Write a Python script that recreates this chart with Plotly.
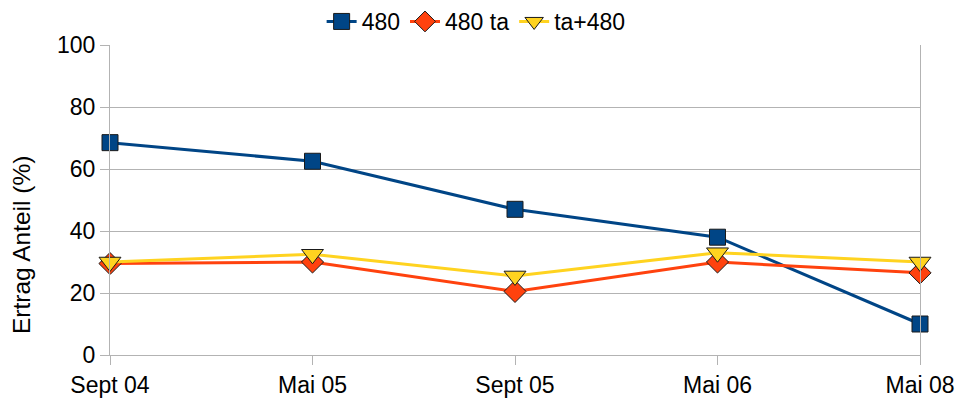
import plotly.graph_objects as go

categories = ["Sept 04", "Mai 05", "Sept 05", "Mai 06", "Mai 08"]
s_480 = [68.5, 62.5, 47.0, 38.0, 10.0]
s_480_ta = [29.5, 30.0, 20.5, 30.0, 26.5]
s_ta_480 = [30.0, 32.5, 25.5, 33.0, 30.0]
y_ticks = [0, 20, 40, 60, 80, 100]
y_title = "Ertrag Anteil (%)"

x = list(range(len(categories)))

series = [
    ("480", s_480, "#004586", "square", 16),
    ("480 ta", s_480_ta, "#ff420e", "diamond", 17),
    ("ta+480", s_ta_480, "#ffd320", "triangle-down", 19),
]

fig = go.Figure()
for name, vals, color, sym, size in series:
    fig.add_trace(go.Scatter(
        x=x, y=vals, name=name, mode="lines+markers",
        line=dict(color=color, width=3),
        marker=dict(symbol=sym, size=size, color=color,
                    line=dict(color="#1a1a1a", width=1)),
        cliponaxis=False,
    ))

grid = "#b3b3b3"
fig.update_layout(
    width=958, height=402,
    margin=dict(l=110, r=38, t=45, b=47, autoexpand=False),
    paper_bgcolor="white", plot_bgcolor="white",
    font=dict(family="Liberation Sans, Arial, sans-serif", size=23, color="#000000"),
    showlegend=True,
    legend=dict(orientation="h", x=0.497, xanchor="center", xref="container",
                y=1.0, yanchor="top", yref="container",
                font=dict(size=23), itemwidth=30,
                traceorder="normal", tracegroupgap=0),
    xaxis=dict(
        range=[0, 4], tickvals=x, ticktext=categories,
        showgrid=False, zeroline=False,
        showline=True, linecolor=grid, linewidth=1, mirror=False,
        ticks="outside", ticklen=9, tickcolor=grid, tickwidth=1,
        tickfont=dict(size=23),
    ),
    yaxis=dict(
        range=[0, 100], tickvals=y_ticks,
        showgrid=True, gridcolor=grid, gridwidth=1, zeroline=False,
        showline=True, linecolor=grid, linewidth=1, mirror=True,
        ticks="outside", ticklen=9, tickcolor=grid, tickwidth=1,
        tickfont=dict(size=23),
    ),
)

# vertical axis title, set a little below the plot's middle
fig.add_annotation(
    text=y_title, textangle=-90, showarrow=False,
    xref="paper", yref="paper", x=-0.1086, y=0.355,
    xanchor="center", yanchor="middle",
    font=dict(size=24.5),
)

fig.write_html("out.html")
